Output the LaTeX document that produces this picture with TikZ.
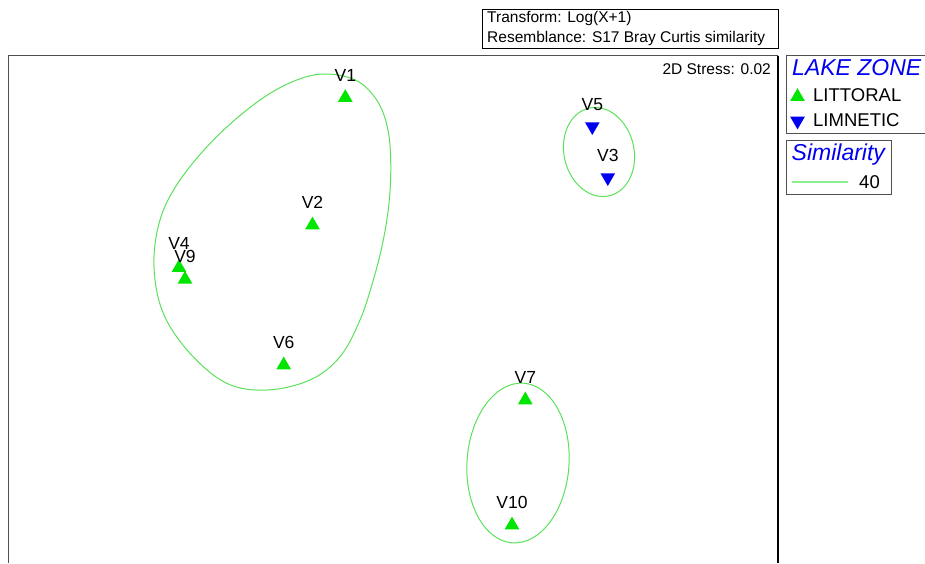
\documentclass[tikz,border=0pt]{standalone}
\usepackage{fontspec}
\setmainfont{Liberation Sans}
\usetikzlibrary{shapes.geometric,positioning}

\definecolor{ptgreen}{RGB}{0,230,0}
\definecolor{ptblue}{RGB}{0,0,240}
\definecolor{simgreen}{RGB}{90,225,90}
\definecolor{keygreen}{RGB}{140,240,140}
\definecolor{framegray}{RGB}{80,80,80}

\tikzset{
	littoral/.style={regular polygon, regular polygon sides=3, fill=ptgreen, minimum size=17pt, inner sep=0pt, outer sep=0pt},
	limnetic/.style={regular polygon, regular polygon sides=3, shape border rotate=180, fill=ptblue, minimum size=17pt, inner sep=0pt, outer sep=0pt},
	sitelabel/.style={font=\fontsize{17.5}{18}\selectfont, inner sep=0pt},
	txt/.style={font=\fontsize{15.5}{17}\selectfont, inner sep=0pt, anchor=west},
	legtitle/.style={font=\fontsize{23}{24}\selectfont\itshape, text=ptblue, inner sep=0pt, anchor=west},
	legtext/.style={font=\fontsize{18.5}{20}\selectfont, inner sep=0pt, anchor=west},
	contour/.style={simgreen, line width=1pt},
}

\begin{document}
\begin{tikzpicture}[x=1pt, y=-1pt]

	\useasboundingbox (0,0) rectangle (925,563);

	% header and frame
	\node[draw=black, line width=0.9pt, minimum width=296pt, minimum height=39pt, anchor=north west, inner sep=0pt] (hdr) at (482,9) {};
	\node[txt] (tform) at (487,18) {Transform: Log(X+1)};
	\node[txt] (resem) at (487,38) {Resemblance: S17 Bray Curtis similarity};

	\draw[framegray, line width=1.2pt] (8.5,563) |- (778,55.5);
	\draw[black, line width=1.2pt] (778,55.5) -- (778,563);
	\node[txt, anchor=east] (stress) at (771,69) {2D Stress: 0.02};

	% similarity contours
	\draw[contour] plot[smooth cycle, tension=0.6] coordinates {(326.7,74) (356.7,80.7) (376.7,100) (387.3,126.7) (390.7,160) (389.3,200) (383.3,240) (373.3,280) (360,320) (340,356.7) (310,380) (266.7,390) (226.7,383.3) (190,353.3) (163.3,313.3) (154,266.7) (160,220) (180,180) (216.7,136.7) (260,100) (296.7,80)};
	\draw[contour] (599,152) ellipse[x radius=35, y radius=45, rotate=13];
	\draw[contour] (518,463) ellipse[x radius=51, y radius=80, rotate=-4];

	% sites
	\node[littoral] (v1) at (345.3,97.7) {};
	\node[littoral] (v2) at (312.5,225.1) {};
	\node[littoral] (v4) at (179,267.7) {};
	\node[littoral] (v9) at (185,279.4) {};
	\node[littoral] (v6) at (283.7,365.1) {};
	\node[littoral] (v7) at (525.3,400.1) {};
	\node[littoral] (v10) at (512,525.1) {};
	\node[limnetic] (v5) at (592.3,126.5) {};
	\node[limnetic] (v3) at (607.8,177.5) {};

	\node[sitelabel, above=8pt of v1] (v1-t) {V1};
	\node[sitelabel, above=8pt of v2] (v2-t) {V2};
	\node[sitelabel, above=10pt of v4] (v4-t) {V4};
	\node[sitelabel, above=8pt of v9] (v9-t) {V9};
	\node[sitelabel, above=8pt of v6] (v6-t) {V6};
	\node[sitelabel, above=8pt of v7] (v7-t) {V7};
	\node[sitelabel, above=8pt of v10] (v10-t) {V10};
	\node[sitelabel, above=11pt of v5] (v5-t) {V5};
	\node[sitelabel, above=11pt of v3] (v3-t) {V3};

	% legend
	\draw[framegray, line width=0.9pt] (925,55.5) -| (786,133) -- (925,133);
	\draw[framegray, line width=0.9pt] (786,140) rectangle (891,194);

	\node[legtitle] (zone) at (792,68) {LAKE ZONE};
	\node[littoral] (key-up) at (797.5,96.7) {};
	\node[legtext] (key-lit) at (813,95.5) {LITTORAL};
	\node[limnetic] (key-down) at (797.5,120.9) {};
	\node[legtext] (key-lim) at (813,120) {LIMNETIC};

	\node[legtitle] (simtitle) at (791.5,155) {Similarity};
	\coordinate (sim-a) at (792,181.7);
	\coordinate (sim-b) at (848,181.7);
	\draw[keygreen, line width=1.6pt] (sim-a) -- (sim-b);
	\node[legtext] (sim40) at (859,182) {40};

\end{tikzpicture}
\end{document}
